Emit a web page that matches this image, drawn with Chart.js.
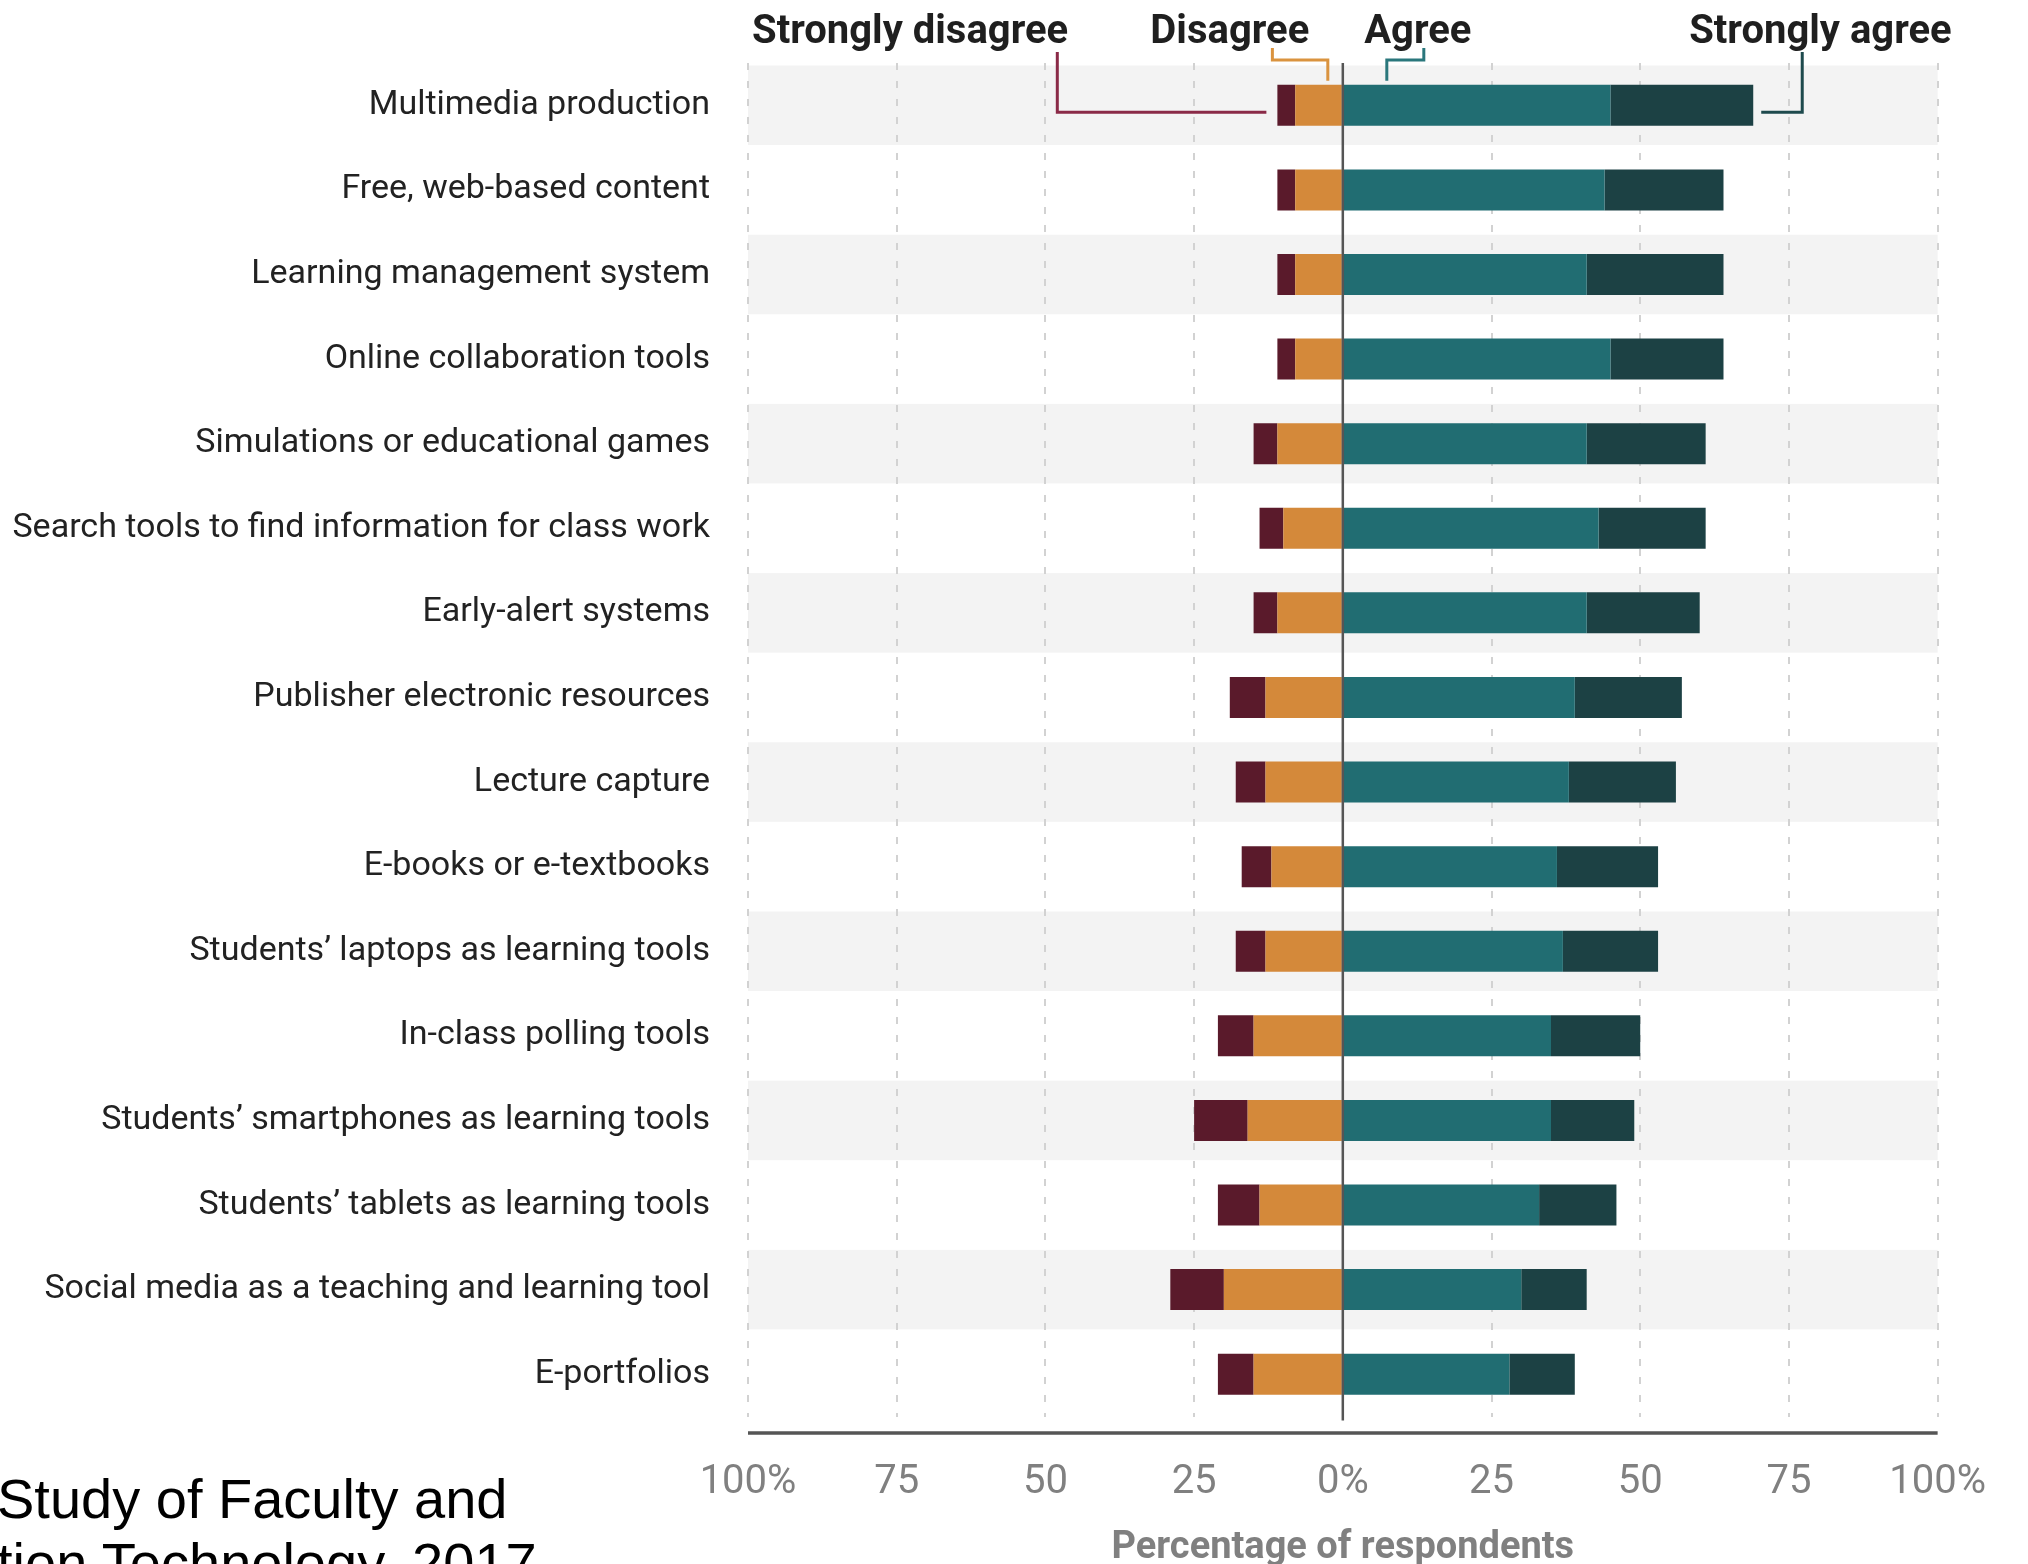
<!DOCTYPE html>
<html>
<head>
<meta charset="utf-8">
<script src="https://cdn.jsdelivr.net/npm/chart.js@4.4.1/dist/chart.umd.min.js"></script>
<style>
  html, body { margin: 0; padding: 0; background: #fff; overflow: hidden; }
  #wrap { position: relative; width: 2028px; height: 1564px; overflow: hidden; }
  #source {
    position: absolute; left: -3px; top: 1467px;
    font-family: "Liberation Sans", Arial, sans-serif; font-size: 56px; line-height: 64px;
    color: #000; white-space: nowrap;
  }
</style>
</head>
<body>
<div id="wrap">
  <canvas id="myChart" width="2028" height="1564"></canvas>
  <div id="source">Study of Faculty and<br>tion Technology, 2017</div>
</div>
<script>
const categories = [
  'Multimedia production',
  'Free, web-based content',
  'Learning management system',
  'Online collaboration tools',
  'Simulations or educational games',
  'Search tools to find information for class work',
  'Early-alert systems',
  'Publisher electronic resources',
  'Lecture capture',
  'E-books or e-textbooks',
  'Students\u2019 laptops as learning tools',
  'In-class polling tools',
  'Students\u2019 smartphones as learning tools',
  'Students\u2019 tablets as learning tools',
  'Social media as a teaching and learning tool',
  'E-portfolios'
];
const stronglyDisagree = [3, 3, 3, 3, 4, 4, 4, 6, 5, 5, 5, 6, 9, 7, 9, 6];
const disagree = [8, 8, 8, 8, 11, 10, 11, 13, 13, 12, 13, 15, 16, 14, 20, 15];
const agree = [45, 44, 41, 45, 41, 43, 41, 39, 38, 36, 37, 35, 35, 33, 30, 28];
const stronglyAgree = [24, 20, 23, 19, 20, 18, 19, 18, 18, 17, 16, 15, 14, 13, 11, 11];
const xTicks = [-100, -75, -50, -25, 0, 25, 50, 75, 100];
const seriesNames = ['Strongly disagree', 'Disagree', 'Agree', 'Strongly agree'];

const colSD = '#5a1a2b';
const colD = '#d4893a';
const colA = '#216d72';
const colSA = '#1c4144';

// bands, zero line, axis line and the header labels with their connectors
const decor = {
  id: 'decor',
  beforeDraw(chart) {
    const {ctx, chartArea, scales: {y}} = chart;
    const step = y.getPixelForValue(1) - y.getPixelForValue(0);
    ctx.save();
    ctx.fillStyle = '#f3f3f3';
    categories.forEach((c, i) => {
      if (i % 2) return;
      const cy = y.getPixelForValue(i);
      ctx.fillRect(chartArea.left, cy - step * 0.47, chartArea.right - chartArea.left, step * 0.94);
    });
    ctx.restore();
  },
  afterDatasetsDraw(chart) {
    const {ctx, chartArea, scales: {x}} = chart;
    const x0 = x.getPixelForValue(0);
    ctx.save();
    ctx.strokeStyle = '#555';
    ctx.lineWidth = 2.5;
    ctx.beginPath();
    ctx.moveTo(x0, chartArea.top);
    ctx.lineTo(x0, chartArea.bottom + 4);
    ctx.stroke();
    ctx.restore();
  },
  afterDraw(chart) {
    const {ctx, chartArea, scales: {x}} = chart;
    const x0 = x.getPixelForValue(0);
    ctx.save();
    // bottom axis line
    ctx.strokeStyle = '#555';
    ctx.lineWidth = 3.5;
    ctx.beginPath();
    ctx.moveTo(chartArea.left, chartArea.bottom + 16.5);
    ctx.lineTo(chartArea.right, chartArea.bottom + 16.5);
    ctx.stroke();

    // header labels
    ctx.fillStyle = '#1f1f1f';
    ctx.font = 'bold 40px Roboto';
    ctx.textBaseline = 'alphabetic';
    ctx.textAlign = 'left';
    ctx.fillText(seriesNames[0], chartArea.left + 4, 43);
    ctx.textAlign = 'center';
    ctx.fillText(seriesNames[1], x.getPixelForValue(-19), 43);
    ctx.fillText(seriesNames[2], x.getPixelForValue(12.6), 43);
    ctx.textAlign = 'right';
    ctx.fillText(seriesNames[3], chartArea.right + 14, 43);

    // connectors to the first row
    const d = chart.getDatasetMeta(0).data[0];
    const sd = chart.getDatasetMeta(1).data[0];
    const sa = chart.getDatasetMeta(3).data[0];
    const barTop = d.y - d.height / 2;
    ctx.lineWidth = 3;
    ctx.lineJoin = 'miter';

    ctx.strokeStyle = '#8a2a47';
    ctx.beginPath();
    const sdx = x.getPixelForValue(-48);
    ctx.moveTo(sdx, 52);
    ctx.lineTo(sdx, sd.y + 7);
    ctx.lineTo(sd.x - 11, sd.y + 7);
    ctx.stroke();

    ctx.strokeStyle = '#da933f';
    ctx.beginPath();
    ctx.moveTo(sd.x - 5, 48);
    ctx.lineTo(sd.x - 5, 60);
    ctx.lineTo(x0 - 15, 60);
    ctx.lineTo(x0 - 15, barTop - 4);
    ctx.stroke();

    ctx.strokeStyle = '#2a777c';
    ctx.beginPath();
    ctx.moveTo(x0 + 81, 48);
    ctx.lineTo(x0 + 81, 60);
    ctx.lineTo(x0 + 44, 60);
    ctx.lineTo(x0 + 44, barTop - 4);
    ctx.stroke();

    ctx.strokeStyle = '#1e4a4d';
    ctx.beginPath();
    ctx.moveTo(sa.x + 49, 52);
    ctx.lineTo(sa.x + 49, sa.y + 7);
    ctx.lineTo(sa.x + 8, sa.y + 7);
    ctx.stroke();
    ctx.restore();
  }
};

const ctx = document.getElementById('myChart').getContext('2d');
const myChart = new Chart(ctx, {
  type: 'bar',
  data: {
    labels: categories,
    datasets: [
      { label: seriesNames[1], data: disagree.map(v => -v), backgroundColor: colD },
      { label: seriesNames[0], data: stronglyDisagree.map(v => -v), backgroundColor: colSD },
      { label: seriesNames[2], data: agree, backgroundColor: colA },
      { label: seriesNames[3], data: stronglyAgree, backgroundColor: colSA }
    ]
  },
  options: {
    indexAxis: 'y',
    responsive: false,
    animation: false,
    layout: { padding: { top: 63, right: 77, left: 0, bottom: 0 } },
    datasets: { bar: { barPercentage: 0.485, categoryPercentage: 1, borderWidth: 0 } },
    plugins: { legend: { display: false }, tooltip: { enabled: false } },
    scales: {
      x: {
        stacked: true,
        min: -100,
        max: 100,
        afterBuildTicks: s => { s.ticks = xTicks.map(v => ({ value: v })); },
        afterFit: s => { s.height = 147.5; },
        ticks: {
          callback: v => Math.abs(v) + (Math.abs(v) % 100 === 0 ? '%' : ''),
          color: '#808080',
          font: { family: 'Roboto', size: 40 },
          padding: 42,
          maxRotation: 0
        },
        grid: { color: '#d2d2d2', lineWidth: 2, drawTicks: false },
        border: { display: false, dash: [7, 11] },
        title: {
          display: true,
          text: 'Percentage of respondents',
          color: '#808080',
          font: { family: 'Roboto', size: 38, weight: 'bold', lineHeight: 0.8 },
          padding: { top: 0, bottom: 0 }
        }
      },
      y: {
        stacked: true,
        afterFit: s => { s.width = 748; },
        grid: { display: false },
        border: { display: false },
        ticks: { color: '#222', font: { family: 'Roboto', size: 34 }, padding: 30 }
      }
    }
  },
  plugins: [decor]
});
</script>
</body>
</html>
